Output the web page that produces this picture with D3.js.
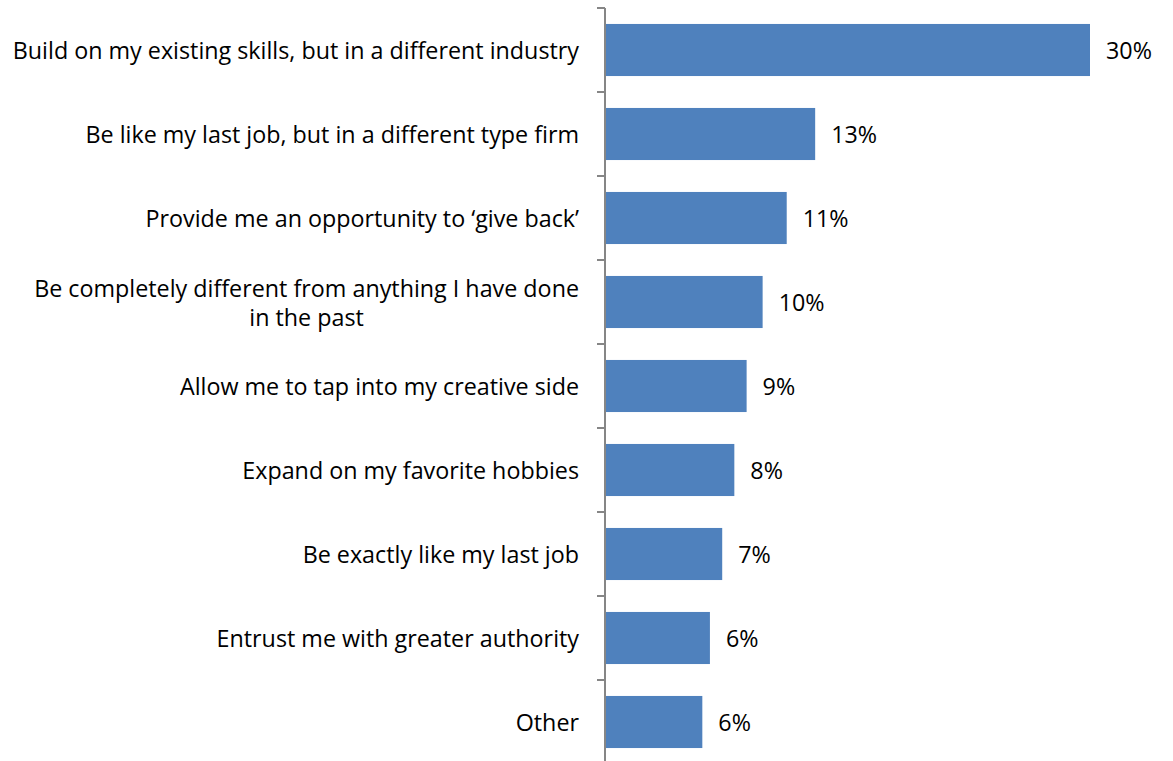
<!DOCTYPE html>
<html>
<head>
<meta charset="utf-8">
<script src="https://cdn.jsdelivr.net/npm/d3@7"></script>
<style>
  html, body { margin: 0; padding: 0; background: #fff; }
  svg { display: block; }
  text { font-family: "Open Sans", Lato, sans-serif; fill: #000; }
</style>
</head>
<body>
<svg id="chart" width="1173" height="761"></svg>
<script>
// Survey answers: what the next job should do ("\n" marks a line break)
const categories = [
  "Build on my existing skills, but in a different industry",
  "Be like my last job, but in a different type firm",
  "Provide me an opportunity to \u2018give back\u2019",
  "Be completely different from anything I have done\nin the past",
  "Allow me to tap into my creative side",
  "Expand on my favorite hobbies",
  "Be exactly like my last job",
  "Entrust me with greater authority",
  "Other"
];
// Share of respondents, in percent
const shares = [30.0, 13.0, 11.24, 9.75, 8.76, 8.0, 7.25, 6.49, 6.02];

const axisX = 605;
const fontSize = 23.3;

const svg = d3.select("#chart");

const x = d3.scaleLinear().domain([0, 30]).range([axisX, 1090]);
const y = d3.scaleBand()
  .domain(categories)
  .range([8, 764])
  .paddingInner(0.38)
  .paddingOuter(0.19);

// Bars
svg.append("g").selectAll("rect")
  .data(categories)
  .join("rect")
  .attr("x", x(0) + 1)
  .attr("y", d => y(d))
  .attr("width", (d, i) => x(shares[i]) - x(0) - 1)
  .attr("height", y.bandwidth())
  .attr("fill", "#4F81BD");

// Category axis: line with ticks on band boundaries
const axis = svg.append("g").attr("stroke", "#868686").attr("stroke-width", 2);
axis.append("line")
  .attr("x1", axisX).attr("x2", axisX)
  .attr("y1", y.range()[0]).attr("y2", y.range()[1]);
axis.selectAll("line.tick")
  .data(d3.range(categories.length + 1))
  .join("line")
  .attr("class", "tick")
  .attr("x1", axisX - 8).attr("x2", axisX)
  .attr("y1", i => y.range()[0] + i * y.step())
  .attr("y2", i => y.range()[0] + i * y.step());

// Category labels; multi-line labels are centred within a block
// that is right-aligned against the axis
const labelRight = 579;
const lineHeight = 29;
const labels = svg.append("g").attr("font-size", fontSize);

categories.forEach(cat => {
  const lines = cat.split("\n");
  const cy = y(cat) + y.bandwidth() / 2;
  const t = labels.append("text")
    .attr("text-anchor", lines.length > 1 ? "middle" : "end")
    .attr("dominant-baseline", "central");
  let ax = labelRight;
  if (lines.length > 1) {
    const probe = labels.append("text");
    const maxW = d3.max(lines, l => { probe.text(l); return probe.node().getComputedTextLength(); });
    probe.remove();
    ax = labelRight - maxW / 2;
  }
  lines.forEach((l, k) => {
    t.append("tspan")
      .attr("x", ax)
      .attr("y", cy + (k - (lines.length - 1) / 2) * lineHeight)
      .text(l);
  });
});

// Value labels
svg.append("g").attr("font-size", fontSize)
  .selectAll("text")
  .data(categories)
  .join("text")
  .attr("x", (d, i) => x(shares[i]) + 16)
  .attr("y", d => y(d) + y.bandwidth() / 2)
  .attr("dominant-baseline", "central")
  .text((d, i) => Math.round(shares[i]) + "%");
</script>
</body>
</html>
